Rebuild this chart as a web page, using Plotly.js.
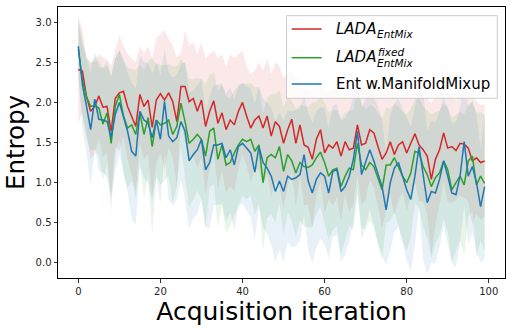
<!DOCTYPE html>
<html>
<head>
<meta charset="utf-8">
<script src="https://cdn.plot.ly/plotly-3.0.1.min.js"></script>
<style>
html,body{margin:0;padding:0;background:#fff;}
#chart{width:511px;height:331px;}
</style>
</head>
<body>
<div id="chart"></div>
<script>
// Acquisition iterations 0..99
const iterations = Array.from({length: 100}, (_, i) => i);

// LADA_EntMix (red) mean entropy
const ladaMean = [
2.41,2.39,2.07,1.89,1.95,2.08,1.94,1.95,1.64,2.05,
2.12,2.14,1.95,1.83,1.70,2.10,1.95,2.03,1.69,2.03,
2.11,2.03,2.12,2.01,1.76,2.20,2.20,2.01,2.05,1.89,
2.03,1.70,1.89,2.02,1.74,1.87,1.66,1.78,1.72,1.89,
2.00,1.83,1.68,1.78,1.83,1.68,1.83,1.58,1.76,1.70,
1.49,1.66,1.79,1.49,1.72,1.47,1.44,1.29,1.54,1.66,
1.37,1.47,1.43,1.51,1.33,1.51,1.41,1.43,1.72,1.47,
1.49,1.66,1.62,1.45,1.29,1.37,1.51,1.35,1.47,1.51,
1.37,1.49,1.61,1.47,1.41,1.33,1.04,1.29,1.41,1.62,
1.43,1.45,1.40,1.49,1.48,1.43,1.27,1.31,1.25,1.27];
const ladaStd = [
0.66,0.52,0.48,0.60,0.60,0.52,0.62,0.58,0.82,0.60,
0.72,0.56,0.66,0.72,0.80,0.60,0.66,0.67,0.86,0.77,
0.74,0.87,0.68,0.70,0.80,0.42,0.70,0.69,0.70,0.71,
0.72,0.85,0.71,0.63,0.81,0.73,0.79,0.82,0.83,0.71,
0.65,0.62,0.67,0.62,0.67,0.72,0.72,0.77,0.74,0.75,
0.81,0.70,0.66,0.80,0.62,0.75,0.72,0.85,0.70,0.65,
0.75,0.68,0.72,0.70,0.80,0.65,0.78,0.70,0.62,0.75,
0.70,0.62,0.68,0.75,0.85,0.72,0.65,0.75,0.70,0.62,
0.72,0.66,0.60,0.70,0.65,0.72,0.95,0.80,0.70,0.60,
0.68,0.70,0.62,0.65,0.68,0.66,0.80,0.70,0.72,0.70];

// LADA^fixed_EntMix (green)
const fixedMean = [
2.66,2.28,2.07,1.95,1.96,1.93,1.73,1.87,1.49,1.95,
2.10,1.83,1.68,1.72,1.60,1.87,1.60,1.81,1.45,1.78,
1.72,1.74,1.78,1.60,1.70,1.99,1.76,1.49,1.54,1.60,
1.54,1.33,1.64,1.68,1.29,1.47,1.22,1.25,1.37,1.47,
1.54,1.51,1.54,1.39,1.47,1.00,1.31,1.35,1.31,1.45,
1.14,1.35,1.27,1.12,1.25,1.20,1.19,1.22,1.31,1.38,
1.25,1.08,1.16,1.18,0.95,1.08,1.18,1.16,1.49,1.22,
1.16,1.25,1.20,1.04,0.91,1.22,1.22,1.31,1.20,1.08,
1.00,1.12,1.39,1.37,1.20,1.10,0.95,1.06,1.12,1.27,
1.16,0.91,1.00,1.08,0.97,1.27,1.33,0.97,1.08,0.99];
const fixedStd = [
0.35,0.45,0.50,0.55,0.55,0.60,0.70,0.65,0.85,0.60,
0.55,0.70,0.75,0.70,0.80,0.60,0.80,0.70,1.10,0.70,
0.75,0.72,0.70,0.85,0.75,0.55,0.72,0.80,0.75,0.70,
0.75,0.90,0.70,0.70,0.85,0.75,0.85,0.80,0.78,0.75,
0.70,0.72,0.70,0.80,0.72,0.85,0.75,0.75,0.80,0.70,
0.80,0.72,0.75,0.80,0.72,0.75,0.75,0.78,0.70,0.68,
0.75,0.80,0.75,0.72,0.85,0.80,0.72,0.75,0.65,0.78,
0.75,0.72,0.75,0.82,0.88,0.72,0.70,0.68,0.75,0.80,
0.85,0.80,0.65,0.68,0.75,0.80,0.90,0.82,0.78,0.72,
0.78,0.90,0.85,0.80,0.88,0.70,0.68,0.90,0.80,0.85];

// Ent w.ManifoldMixup (blue)
const entMean = [
2.70,2.22,1.95,1.66,2.04,1.79,1.78,1.76,1.56,1.85,
2.00,1.81,1.64,1.39,1.33,1.89,1.78,1.74,1.56,1.78,
1.54,2.01,1.58,1.51,1.56,1.76,1.64,1.27,1.35,1.41,
1.54,1.16,1.25,1.47,1.47,1.49,1.31,1.41,1.22,1.45,
1.49,1.43,1.37,1.13,1.45,1.25,1.18,1.08,0.89,1.02,
0.89,1.08,1.04,1.06,1.10,1.35,1.02,0.87,1.04,1.12,
1.08,0.87,1.14,1.16,0.89,0.95,1.08,1.29,1.64,1.10,
1.25,1.41,1.27,1.10,0.95,0.66,1.00,1.18,1.25,1.08,
0.91,0.79,1.08,1.45,1.08,0.75,0.89,0.87,1.04,1.27,
1.08,0.87,0.85,1.08,1.51,1.08,1.20,1.00,0.70,0.95];
const entStd = [
0.35,0.55,0.60,0.70,0.60,0.65,0.65,0.70,0.75,0.70,
0.65,0.70,0.75,0.85,0.85,0.70,0.72,0.75,0.80,0.72,
0.80,0.65,0.80,0.80,0.78,0.72,0.86,0.85,0.80,0.80,
0.75,0.72,0.82,0.75,0.75,0.75,0.80,0.78,0.82,0.75,
0.75,0.78,0.80,0.85,0.75,0.80,0.82,0.85,0.88,0.85,
0.88,0.82,0.85,0.85,0.82,0.75,0.85,0.88,0.85,0.82,
0.85,0.81,0.82,0.82,0.88,0.86,0.82,0.78,0.70,0.82,
0.78,0.75,0.80,0.85,0.85,0.69,0.85,0.80,0.80,0.85,
0.88,0.90,0.85,0.75,1.04,0.90,0.88,0.88,0.85,0.80,
0.85,0.88,0.90,0.85,0.80,0.85,0.82,0.85,0.70,0.90];

const xTicks = [0, 20, 40, 60, 80, 100];
const yTicks = [0.0, 0.5, 1.0, 1.5, 2.0, 2.5, 3.0];
const yTickText = yTicks.map(v => v.toFixed(1));

const series = [
  {name: 'LADA_EntMix', mean: ladaMean, std: ladaStd, color: '#d62728', rgb: '214,39,40'},
  {name: 'LADA_fixed_EntMix', mean: fixedMean, std: fixedStd, color: '#2ca02c', rgb: '44,160,44'},
  {name: 'Ent w.ManifoldMixup', mean: entMean, std: entStd, color: '#1f77b4', rgb: '31,119,180'}
];

const traces = [];
series.forEach(s => {
  const lo = s.mean.map((m, i) => m - s.std[i]);
  const hi = s.mean.map((m, i) => m + s.std[i]);
  traces.push({x: iterations, y: lo, type: 'scatter', mode: 'lines',
    line: {width: 0, color: 'rgba(0,0,0,0)'}, showlegend: false, hoverinfo: 'skip'});
  traces.push({x: iterations, y: hi, type: 'scatter', mode: 'lines', fill: 'tonexty',
    fillcolor: 'rgba(' + s.rgb + ',0.1)',
    line: {width: 0, color: 'rgba(0,0,0,0)'}, showlegend: false, hoverinfo: 'skip'});
});
series.forEach(s => {
  traces.push({x: iterations, y: s.mean, type: 'scatter', mode: 'lines', name: s.name,
    line: {color: s.color, width: 1.5}, showlegend: false});
});

// plot area in pixels: left 58, right 505, top 7, bottom 278
const PL = 58, PR = 505, PT = 7, PB = 278;
const px = v => (v - PL) / (PR - PL);
const py = v => (PB - v) / (PB - PT);

const legendFont = {family: 'DejaVu Sans', size: 15, color: '#000'};
const scriptFont = {family: 'DejaVu Sans', size: 10.5, color: '#000'};

const shapes = [
  {type: 'rect', xref: 'paper', yref: 'paper', layer: 'above',
   x0: px(286.5), x1: px(497.3), y0: py(98.3), y1: py(15.7),
   fillcolor: 'rgba(255,255,255,0.8)', line: {color: '#cccccc', width: 1}},
  {type: 'line', xref: 'paper', yref: 'paper', layer: 'above',
   x0: px(291.7), x1: px(321.7), y0: py(29), y1: py(29), line: {color: '#d62728', width: 1.5}},
  {type: 'line', xref: 'paper', yref: 'paper', layer: 'above',
   x0: px(291.7), x1: px(321.7), y0: py(57.7), y1: py(57.7), line: {color: '#2ca02c', width: 1.5}},
  {type: 'line', xref: 'paper', yref: 'paper', layer: 'above',
   x0: px(291.7), x1: px(321.7), y0: py(84), y1: py(84), line: {color: '#1f77b4', width: 1.5}}
];

const ann = (x, y, text, font) => ({xref: 'paper', yref: 'paper', x: px(x), y: py(y),
  xanchor: 'left', yanchor: 'middle', text: text, showarrow: false, font: font});

const annotations = [
  ann(334, 29, '<i>LADA</i>', legendFont),
  ann(375, 33.5, '<i>EntMix</i>', scriptFont),
  ann(334, 57, '<i>LADA</i>', legendFont),
  ann(376, 51.5, '<i>fixed</i>', scriptFont),
  ann(375, 62.5, '<i>EntMix</i>', scriptFont),
  ann(334, 84, 'Ent w.ManifoldMixup', legendFont)
];

const axisCommon = {
  showline: true, mirror: true, linecolor: '#000', linewidth: 1,
  ticks: 'outside', ticklen: 3.5, tickwidth: 0.8, tickcolor: '#000',
  showgrid: false, zeroline: false,
  tickfont: {family: 'DejaVu Sans', size: 10, color: '#262626'}
};

const layout = {
  width: 511, height: 331,
  margin: {l: PL, r: 511 - PR, t: PT, b: 331 - PB, pad: 0},
  paper_bgcolor: '#fff', plot_bgcolor: '#fff',
  showlegend: false,
  xaxis: Object.assign({}, axisCommon, {
    range: [-4.95, 103.95], tickvals: xTicks, ticktext: xTicks.map(String),
    title: {text: 'Acquisition iteration', standoff: 3,
      font: {family: 'DejaVu Sans', size: 25, color: '#000'}}
  }),
  yaxis: Object.assign({}, axisCommon, {
    range: [-0.19, 3.19], tickvals: yTicks, ticktext: yTickText,
    title: {text: 'Entropy', standoff: 4,
      font: {family: 'DejaVu Sans', size: 24.5, color: '#000'}}
  }),
  shapes: shapes,
  annotations: annotations
};

Plotly.newPlot('chart', traces, layout, {staticPlot: true, displayModeBar: false});
</script>
</body>
</html>
